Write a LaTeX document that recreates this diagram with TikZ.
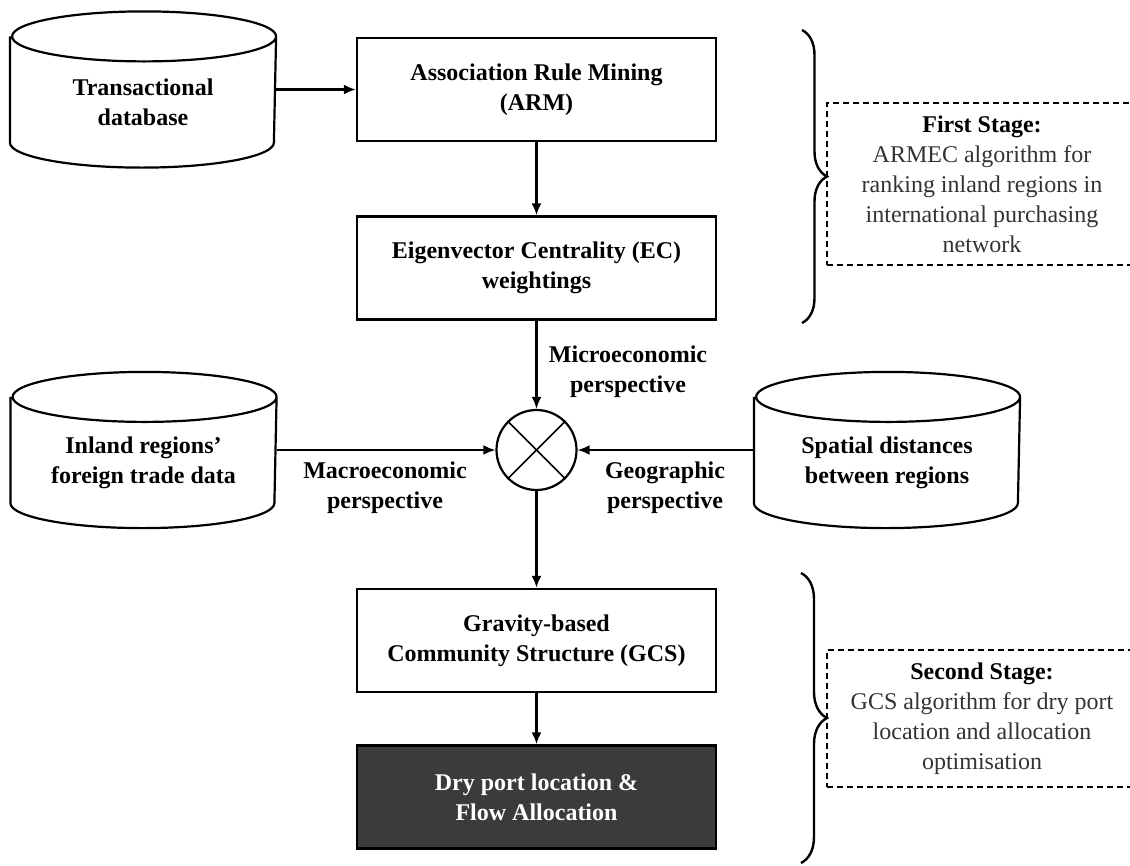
\documentclass[tikz,border=0pt]{standalone}
\usepackage{fontspec}
\setmainfont{Liberation Serif}
\usetikzlibrary{arrows.meta}
\usetikzlibrary{decorations.pathreplacing}
\tikzset{>={Latex[length=12pt,width=10pt]}}
\tikzset{process/.style = {shape=rectangle,draw,line width=2.4pt,minimum width=359pt,minimum height=103pt,align=center,font=\fontsize{24}{30}\selectfont\bfseries}}
\tikzset{dbbody/.style = {shape=rectangle,minimum width=264pt,minimum height=154pt,inner sep=0pt}}
\tikzset{dbtext/.style = {align=center,yshift=-13pt,font=\fontsize{24}{30}\selectfont\bfseries}}
\tikzset{stagebox/.style = {shape=rectangle,draw,dash pattern=on 6pt off 4pt,line width=1.3pt,minimum width=310pt,align=center,text=black!80,font=\fontsize{24}{30}\selectfont}}
\tikzset{persp/.style = {align=center,font=\fontsize{24}{30}\selectfont\bfseries}}

\begin{document}
\begin{tikzpicture}[x=1pt,y=1pt,line width=2.2pt]
                \useasboundingbox (0,0) rectangle (1130,-865);

                \node[dbbody,label={[dbtext]center:Transactional\\database}] (tdb) at (143,-89.5) {};
                \node[dbbody,label={[dbtext]center:Inland regions'\\foreign trade data}] (ifd) at (143.5,-450) {};
                \node[dbbody,label={[dbtext]center:Spatial distances\\between regions}] (sdr) at (887,-450) {};

                \node[process] (arm) at (536.5,-89.5) {Association Rule Mining\\(ARM)};
                \node[process] (ec) at (536.5,-268) {Eigenvector Centrality (EC)\\weightings};
                \node[circle,draw,minimum size=80pt,inner sep=0pt] (mix) at (536.5,-450) {};
                \node[process] (gcs) at (536.5,-640.5) {Gravity-based\\Community Structure (GCS)};
                \node[process,fill=black!77,text=white] (dry) at (536.5,-797) {Dry port location \&\\Flow Allocation};

                \node[persp] (micro) at (628,-372) {Microeconomic\\perspective};
                \node[persp] (macro) at (385,-488) {Macroeconomic\\perspective};
                \node[persp] (geo) at (665,-488) {Geographic\\perspective};

                \node[stagebox,minimum height=162pt] (st1) at (982,-184) {\textcolor{black}{\textbf{First Stage:}}\\ARMEC algorithm for\\ranking inland regions in\\international purchasing\\network};
                \node[stagebox,minimum height=137pt] (st2) at (982,-718.5) {\textcolor{black}{\textbf{Second Stage:}}\\GCS algorithm for dry port\\location and allocation\\optimisation};

                \coordinate (b1top) at (802,-30);
                \coordinate (b1bot) at (802,-323);
                \coordinate (b2top) at (801,-573);
                \coordinate (b2bot) at (801,-863);

                % cylinders
                \foreach \c in {tdb,ifd,sdr}
                    \draw ([yshift=-25pt]\c.north west) -- ([yshift=25pt]\c.south west)
                        arc[start angle=180,end angle=360,x radius=132pt,y radius=25pt]
                        -- ([yshift=-25pt]\c.north east)
                        arc[start angle=0,end angle=360,x radius=132pt,y radius=25pt];

                \draw[line width=1.6pt] (mix.north west) -- (mix.south east);
                \draw[line width=1.6pt] (mix.north east) -- (mix.south west);

                \draw[->] (tdb) -- (arm);
                \draw[->] (arm) -- (ec);
                \draw[->] (ec) -- (mix);
                \draw[->] (ifd) -- (mix);
                \draw[->] (sdr) -- (mix);
                \draw[->] (mix) -- (gcs);
                \draw[->] (gcs) -- (dry);

                \draw[line width=2.4pt,decorate,decoration={brace,amplitude=25pt}] (b1top) -- (b1bot);
                \draw[line width=2.4pt,decorate,decoration={brace,amplitude=26pt}] (b2top) -- (b2bot);
            \end{tikzpicture}
\end{document}
